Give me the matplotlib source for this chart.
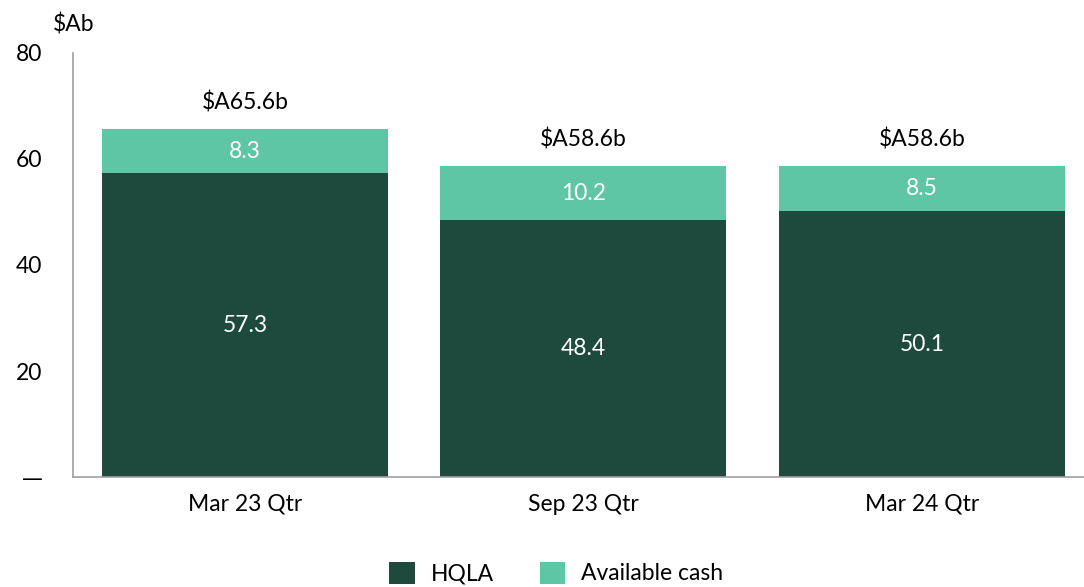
import matplotlib
matplotlib.use("Agg")
import matplotlib.pyplot as plt
from matplotlib.patches import Patch

plt.rcParams['font.family'] = ['Lato', 'DejaVu Sans']

categories = ["Mar 23 Qtr", "Sep 23 Qtr", "Mar 24 Qtr"]
hqla = [57.3, 48.4, 50.1]
available_cash = [8.3, 10.2, 8.5]
totals_label = ["$A65.6b", "$A58.6b", "$A58.6b"]
y_ticks = [0, 20, 40, 60, 80]
y_tick_labels = ["—", "20", "40", "60", "80"]

dark = "#1e4a3d"
light = "#5ec6a5"
axis_grey = "#a0a0a0"
fs = 16.5

fig = plt.figure(figsize=(10.84, 5.87), dpi=100)
ax = fig.add_axes([73 / 1084, 1 - 477 / 587, 1 - 73 / 1084, (477 - 53) / 587])

x = list(range(len(categories)))
width = 0.845
ax.bar(x, hqla, width=width, color=dark, zorder=2)
ax.bar(x, available_cash, width=width, bottom=hqla, color=light, zorder=2)

for i in x:
    ax.text(i, hqla[i] / 2, f"{hqla[i]:.1f}", ha="center", va="center",
            color="white", fontsize=fs)
    ax.text(i, hqla[i] + available_cash[i] / 2, f"{available_cash[i]:.1f}",
            ha="center", va="center", color="white", fontsize=fs)
    total = hqla[i] + available_cash[i]
    ax.text(i, total + 5.0, totals_label[i].replace("$", r"\$"), ha="center",
            va="center", color="black", fontsize=fs)

ax.set_xlim(-0.508, 2.479)
ax.set_ylim(0, 80)
ax.set_yticks(y_ticks)
ax.set_yticklabels(y_tick_labels)
ax.set_xticks(x)
ax.set_xticklabels(categories)
ax.tick_params(axis="y", length=0, pad=22, labelsize=fs)
ax.tick_params(axis="x", length=0, pad=12, labelsize=fs)
# the zero tick is drawn as a long dash
ax.get_yticklabels()[0].set_fontfamily("DejaVu Sans")
ax.get_yticklabels()[0].set_fontsize(15)

for side in ["top", "right"]:
    ax.spines[side].set_visible(False)
for side in ["left", "bottom"]:
    ax.spines[side].set_color(axis_grey)
    ax.spines[side].set_linewidth(1.2)

fig.text(53 / 1084, 1 - 25 / 587, r"\$Ab", ha="left", va="center", fontsize=fs)

handles = [Patch(facecolor=dark, label="HQLA"),
           Patch(facecolor=light, label="Available cash")]
fig.legend(handles=handles, loc="center", bbox_to_anchor=(0.513, 1 - 573 / 587),
           ncol=2, frameon=False, fontsize=fs, handlelength=1.1,
           handleheight=1.1, handletextpad=0.7, columnspacing=2.0)

fig.savefig("out.png", dpi=100)
